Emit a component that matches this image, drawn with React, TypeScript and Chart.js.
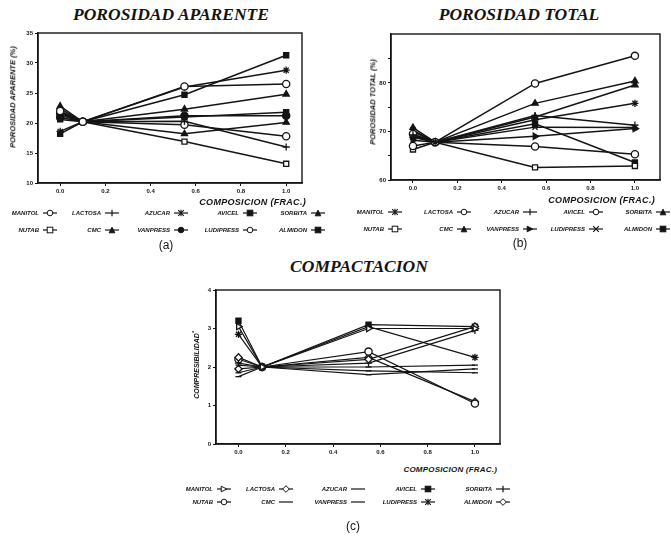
import React, { useEffect, useRef } from "react";
import { Chart, registerables } from "chart.js";

Chart.register(...registerables);

// ---------------- data ----------------
const seriesNames = ["MANITOL", "LACTOSA", "AZUCAR", "AVICEL", "SORBITA", "NUTAB", "CMC", "VANPRESS", "LUDIPRESS", "ALMIDON"];
const compositionX = [0.0, 0.1, 0.55, 1.0];
const xTickValues = [0, 0.2, 0.4, 0.6, 0.8, 1.0];
const xTickLabels = ["0.0", "0.2", "0.4", "0.6", "0.8", "1.0"];

// (a) Porosidad aparente (%)
const apparentManitol = [22.0, 20.2, 26.1, 26.5];
const apparentLactosa = [22.4, 20.2, 20.3, 16.0];
const apparentAzucar = [18.6, 20.2, 26.0, 28.8];
const apparentAvicel = [20.6, 20.2, 21.0, 21.8];
const apparentSorbita = [22.8, 20.2, 18.2, 20.1];
const apparentNutab = [21.8, 20.2, 16.9, 13.2];
const apparentCmc = [21.3, 20.2, 22.3, 24.8];
const apparentVanpress = [20.9, 20.2, 21.2, 21.2];
const apparentLudipress = [21.6, 20.2, 19.7, 17.8];
const apparentAlmidon = [18.2, 20.2, 24.7, 31.3];
const apparentYTicks = [10, 15, 20, 25, 30, 35];

// (b) Porosidad total (%)
const totalManitol = [68.8, 67.8, 72.4, 75.8];
const totalLactosa = [67.0, 67.8, 66.9, 65.3];
const totalAzucar = [69.3, 67.8, 73.3, 71.3];
const totalAvicel = [69.5, 67.8, 79.9, 85.6];
const totalSorbita = [70.8, 67.8, 75.8, 80.4];
const totalNutab = [66.3, 67.8, 62.6, 62.9];
const totalCmc = [70.0, 67.8, 73.0, 79.6];
const totalVanpress = [68.2, 67.8, 69.0, 70.6];
const totalLudipress = [70.3, 67.8, 70.9, 70.8];
const totalAlmidon = [69.0, 67.8, 71.6, 63.6];
const totalYTicks = [60, 65, 70, 75, 80, 85];
const totalYLabels = [60, 70, 80];

// (c) Compresibilidad
const compManitol = [3.05, 2.0, 3.0, 3.0];
const compLactosa = [2.25, 2.0, 2.2, 3.05];
const compAzucar = [1.85, 2.0, 2.0, 2.05];
const compAvicel = [3.2, 2.0, 3.1, 3.05];
const compSorbita = [2.1, 2.0, 2.1, 2.95];
const compNutab = [2.2, 2.0, 2.4, 1.05];
const compCmc = [1.75, 2.0, 1.9, 1.85];
const compVanpress = [2.05, 2.0, 1.8, 1.95];
const compLudipress = [2.85, 2.0, 3.05, 2.25];
const compAlmidon = [1.95, 2.0, 2.25, 1.1];
const compYTicks = [0, 1, 2, 3, 4];

// ---------------- styles ----------------
type Mk = { s: string; f: boolean; rot?: number };
const apparentMarkers: Mk[] = [
  { s: "circle", f: false }, { s: "cross", f: false }, { s: "star", f: false }, { s: "rect", f: true },
  { s: "triangle", f: true }, { s: "rect", f: false }, { s: "triangle", f: true }, { s: "circle", f: true },
  { s: "circle", f: false }, { s: "rect", f: true },
];
const totalMarkers: Mk[] = [
  { s: "star", f: false }, { s: "circle", f: false }, { s: "cross", f: false }, { s: "circle", f: false },
  { s: "triangle", f: true }, { s: "rect", f: false }, { s: "triangle", f: true }, { s: "triangle", f: true, rot: 90 },
  { s: "crossRot", f: false }, { s: "rect", f: true },
];
const compMarkers: Mk[] = [
  { s: "triangle", f: false, rot: 90 }, { s: "rectRot", f: false }, { s: "line", f: false }, { s: "rect", f: true },
  { s: "cross", f: false }, { s: "circle", f: false }, { s: "line", f: false }, { s: "line", f: false },
  { s: "star", f: false }, { s: "rectRot", f: false },
];

const INK = "#141414";
const tickFont = { family: "'Liberation Sans', Arial, sans-serif", size: 6, weight: "bold" as const };

const frameBox = {
  id: "frameBox",
  afterDraw(chart: any) {
    const { ctx, chartArea: a } = chart;
    ctx.save();
    ctx.strokeStyle = INK;
    ctx.lineWidth = 1.4;
    ctx.strokeRect(a.left, a.top, a.right - a.left, a.bottom - a.top);
    ctx.restore();
  },
};

type PanelProps = {
  left: number; top: number; width: number; height: number;
  area: [number, number, number, number];
  xMin: number; xMax: number; yMin: number; yMax: number;
  yTicks: number[]; yLabels: number[];
  values: number[][]; markers: Mk[]; lineWidth: number;
};

function Panel(p: PanelProps) {
  const ref = useRef<HTMLCanvasElement | null>(null);
  useEffect(() => {
    if (!ref.current) return;
    const [l, t, r, b] = p.area;
    const chart = new Chart(ref.current, {
      type: "line",
      data: {
        datasets: p.values.map((vals, i) => ({
          label: seriesNames[i],
          data: vals.map((v, j) => ({ x: compositionX[j], y: v })),
          borderColor: INK,
          borderWidth: p.lineWidth,
          pointStyle: p.markers[i].s as any,
          pointRotation: p.markers[i].rot || 0,
          pointRadius: p.markers[i].s === "line" ? 3 : 3.6,
          pointBackgroundColor: p.markers[i].f ? INK : "#fff",
          pointBorderColor: INK,
          pointBorderWidth: 1.3,
          tension: 0,
          fill: false,
        })),
      },
      options: {
        responsive: false,
        maintainAspectRatio: false,
        animation: false,
        layout: { padding: { left: 0, top: t, right: p.width - r, bottom: 0 }, autoPadding: false } as any,
        plugins: { legend: { display: false }, tooltip: { enabled: false }, title: { display: false } },
        scales: {
          x: {
            type: "linear",
            min: p.xMin,
            max: p.xMax,
            afterBuildTicks: (s: any) => { s.ticks = xTickValues.map((v) => ({ value: v })); },
            afterFit: (s: any) => { s.height = p.height - b; },
            ticks: {
              callback: (_v: any, i: number) => xTickLabels[i],
              font: tickFont, color: INK, padding: 2, maxRotation: 0, autoSkip: false,
            },
            grid: { drawOnChartArea: false, color: INK, tickLength: 3, lineWidth: 1 },
            border: { color: INK, width: 1.4 },
          },
          y: {
            type: "linear",
            min: p.yMin,
            max: p.yMax,
            afterBuildTicks: (s: any) => { s.ticks = p.yTicks.map((v) => ({ value: v })); },
            afterFit: (s: any) => { s.width = l; },
            ticks: {
              callback: (v: any) => (p.yLabels.includes(Number(v)) ? String(v) : ""),
              font: tickFont, color: INK, padding: 2, autoSkip: false,
            },
            grid: { drawOnChartArea: false, color: INK, tickLength: 3, lineWidth: 1 },
            border: { color: INK, width: 1.4 },
          },
        },
      },
      plugins: [frameBox],
    } as any);
    return () => chart.destroy();
  }, []);
  return (
    <canvas
      ref={ref}
      width={p.width}
      height={p.height}
      style={{ position: "absolute", left: p.left, top: p.top, width: p.width, height: p.height }}
    />
  );
}

function Txt(props: { x: number; y: number; text: React.ReactNode; size: number; serif?: boolean; bold?: boolean; italic?: boolean; rotate?: boolean; align?: "center" | "right"; spacing?: number }) {
  const { x, y, text, size, serif, bold = true, italic = true, rotate, align = "center", spacing = 0 } = props;
  const style: React.CSSProperties = {
    position: "absolute",
    whiteSpace: "nowrap",
    fontFamily: serif ? "'Liberation Serif', 'DejaVu Serif', serif" : "'Liberation Sans', Arial, sans-serif",
    fontSize: size,
    fontWeight: bold ? 700 : 400,
    fontStyle: italic ? "italic" : "normal",
    letterSpacing: spacing,
    color: INK,
    lineHeight: 1,
    left: x,
    top: y,
    transform:
      (align === "center" ? "translate(-50%, -50%)" : "translate(-100%, -50%)") + (rotate ? " rotate(-90deg)" : ""),
  };
  return <div style={style}>{text}</div>;
}

function Marker({ m }: { m: Mk }) {
  const cx = 8, cy = 4, r = 2.8;
  const fill = m.f ? INK : "#fff";
  let shape: React.ReactNode = null;
  const sw = 1;
  if (m.s === "circle") shape = <circle cx={cx} cy={cy} r={r} fill={fill} stroke={INK} strokeWidth={sw} />;
  else if (m.s === "rect") shape = <rect x={cx - r} y={cy - r} width={2 * r} height={2 * r} fill={fill} stroke={INK} strokeWidth={sw} />;
  else if (m.s === "triangle") {
    const pts = m.rot
      ? `${cx + r},${cy} ${cx - r},${cy - r} ${cx - r},${cy + r}`
      : `${cx},${cy - r} ${cx + r},${cy + r} ${cx - r},${cy + r}`;
    shape = <polygon points={pts} fill={fill} stroke={INK} strokeWidth={sw} />;
  } else if (m.s === "rectRot") shape = <polygon points={`${cx},${cy - r - 0.5} ${cx + r + 0.5},${cy} ${cx},${cy + r + 0.5} ${cx - r - 0.5},${cy}`} fill={fill} stroke={INK} strokeWidth={sw} />;
  else if (m.s === "cross") shape = <line x1={cx} y1={cy - r - 0.5} x2={cx} y2={cy + r + 0.5} stroke={INK} strokeWidth={1.2} />;
  else if (m.s === "crossRot") shape = <path d={`M${cx - r},${cy - r}L${cx + r},${cy + r}M${cx - r},${cy + r}L${cx + r},${cy - r}`} stroke={INK} strokeWidth={1.2} />;
  else if (m.s === "star") shape = <path d={`M${cx - r},${cy - r}L${cx + r},${cy + r}M${cx - r},${cy + r}L${cx + r},${cy - r}M${cx},${cy - r - 0.5}L${cx},${cy + r + 0.5}`} stroke={INK} strokeWidth={1.1} />;
  return (
    <svg width={16} height={8} style={{ display: "block" }}>
      <line x1={1} y1={cy} x2={15} y2={cy} stroke={INK} strokeWidth={1.2} />
      {shape}
    </svg>
  );
}

function Legend({ cols, rows, markers }: { cols: number[]; rows: number[]; markers: Mk[] }) {
  const items: React.ReactNode[] = [];
  seriesNames.forEach((name, i) => {
    const row = Math.floor(i / 5);
    const col = i % 5;
    const mx = cols[col];
    const y = rows[row];
    items.push(
      <React.Fragment key={name}>
        <Txt x={mx - 11} y={y} text={name} size={6} align="right" />
        <div style={{ position: "absolute", left: mx - 8, top: y - 4 }}>
          <Marker m={markers[i]} />
        </div>
      </React.Fragment>
    );
  });
  return <>{items}</>;
}

export default function App() {
  const apparentValues = [apparentManitol, apparentLactosa, apparentAzucar, apparentAvicel, apparentSorbita, apparentNutab, apparentCmc, apparentVanpress, apparentLudipress, apparentAlmidon];
  const totalValues = [totalManitol, totalLactosa, totalAzucar, totalAvicel, totalSorbita, totalNutab, totalCmc, totalVanpress, totalLudipress, totalAlmidon];
  const compValues = [compManitol, compLactosa, compAzucar, compAvicel, compSorbita, compNutab, compCmc, compVanpress, compLudipress, compAlmidon];

  return (
    <div style={{ position: "absolute", left: 0, top: 0, width: 671, height: 537, background: "#fff", overflow: "hidden" }}>
      {/* (a) */}
      <Txt x={171} y={15} text="POROSIDAD APARENTE" size={17.5} serif />
      <Panel left={0} top={20} width={315} height={178} area={[38, 13, 302, 163]}
        xMin={-0.098} xMax={1.07} yMin={10} yMax={35} yTicks={apparentYTicks} yLabels={apparentYTicks}
        values={apparentValues} markers={apparentMarkers} lineWidth={1.5} />
      <Txt x={13} y={97} text="POROSIDAD APARENTE (%)" size={7.5} rotate />
      <Txt x={306} y={202} text="COMPOSICION (FRAC.)" size={9} align="right" spacing={0.3} />
      <Legend cols={[50, 112, 181, 250, 318]} rows={[213, 230]} markers={apparentMarkers} />
      <Txt x={166} y={245} text="(a)" size={12} bold={false} italic={false} />

      {/* (b) */}
      <Txt x={519} y={15} text="POROSIDAD TOTAL" size={17.5} serif />
      <Panel left={350} top={20} width={321} height={175} area={[41, 14, 310, 160]}
        xMin={-0.099} xMax={1.113} yMin={60} yMax={90.1} yTicks={totalYTicks} yLabels={totalYLabels}
        values={totalValues} markers={totalMarkers} lineWidth={1.5} />
      <Txt x={373} y={102} text="POROSIDAD TOTAL (%)" size={7.5} rotate />
      <Txt x={655} y={200} text="COMPOSICION (FRAC.)" size={9} align="right" spacing={0.3} />
      <Legend cols={[395, 464, 530, 596, 663]} rows={[212, 229]} markers={totalMarkers} />
      <Txt x={520} y={243} text="(b)" size={12} bold={false} italic={false} />

      {/* (c) */}
      <Txt x={359} y={267} text="COMPACTACION" size={17.5} serif />
      <Panel left={180} top={280} width={330} height={180} area={[36, 10, 320, 164]}
        xMin={-0.095} xMax={1.106} yMin={0} yMax={4} yTicks={compYTicks} yLabels={compYTicks}
        values={compValues} markers={compMarkers} lineWidth={1.2} />
      <Txt x={196} y={365} text={<span>COMPRESIBILIDAD<sup style={{ fontSize: 5 }}>*</sup></span>} size={7} rotate />
      <Txt x={497} y={470} text="COMPOSICION (FRAC.)" size={8} align="right" spacing={0.2} />
      <Legend cols={[224, 286, 358, 428, 503]} rows={[489, 502]} markers={compMarkers} />
      <Txt x={353} y={526} text="(c)" size={12} bold={false} italic={false} />
    </div>
  );
}
